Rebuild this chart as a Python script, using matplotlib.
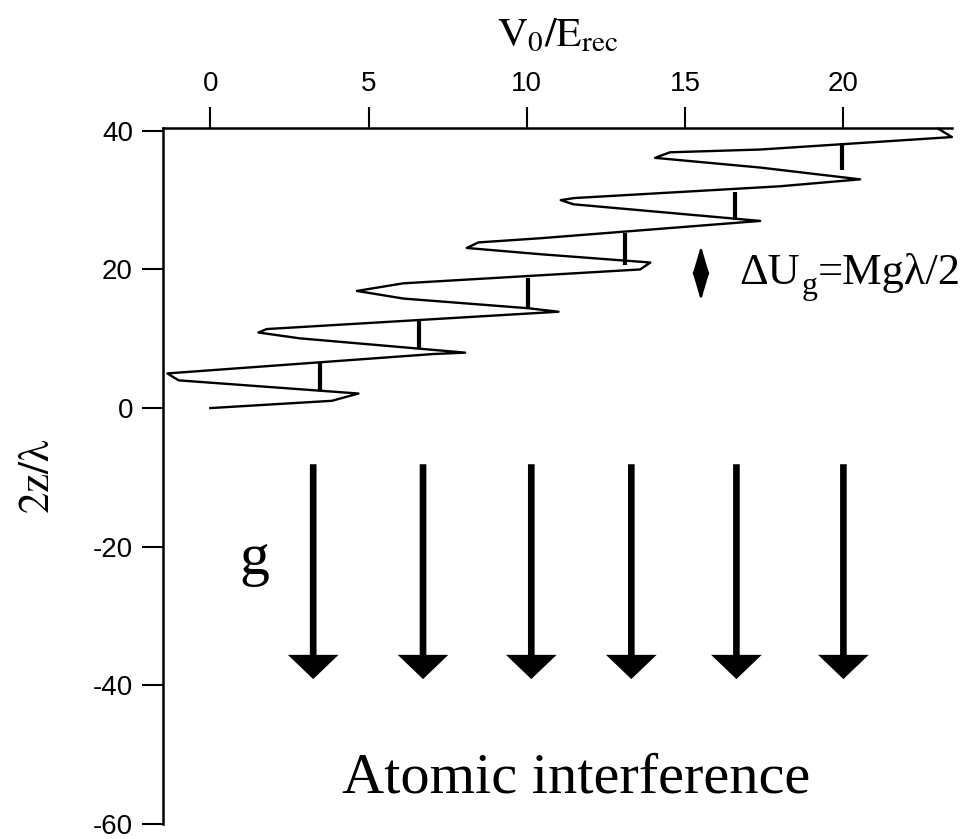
import matplotlib
matplotlib.use("Agg")
import matplotlib.pyplot as plt

plt.rcParams["font.family"] = ["Liberation Sans", "DejaVu Sans"]
plt.rcParams["mathtext.fontset"] = "stix"
plt.rcParams["axes.unicode_minus"] = False

# zigzag potential curve (V0/Erec, 2z/lambda)
curve_x = [0.0, 3.84, 4.68, -1.0, -1.36, 7.05, 8.05, 2.83, 1.52, 1.78,
           11.0, 10.05, 6.1, 4.63, 6.1, 13.58, 13.9, 10.42, 8.1, 8.47,
           10.42, 17.37, 11.47, 11.07, 11.5, 18.0, 20.53, 17.37, 14.52, 14.05,
           14.52, 17.37, 23.43, 23.0]
curve_y = [0.0, 1.05, 2.1, 4.0, 5.0, 7.8, 8.0, 10.06, 10.9, 11.4,
           13.9, 14.4, 15.8, 16.9, 18.0, 20.0, 21.0, 22.2, 23.1, 23.9,
           24.5, 27.0, 29.4, 30.0, 30.3, 32.0, 33.0, 34.7, 35.9, 36.1,
           36.9, 37.3, 39.1, 40.3]

# short vertical bars between the sweeps
bar_x = [3.47, 6.6, 10.04, 13.1, 16.58, 19.95]
bar_bottom = [2.4, 8.55, 14.45, 20.6, 27.2, 34.4]
bar_top = [6.5, 12.5, 18.8, 25.3, 31.2, 38.3]

# gravity arrows
arrow_x = [3.25, 6.72, 10.14, 13.3, 16.62, 20.0]
arrow_top = -8.1
arrow_tip = -39.1

xticks = [0, 5, 10, 15, 20]
yticks = [-60, -40, -20, 0, 20, 40]

fig = plt.figure(figsize=(9.65, 8.39), dpi=100)
ax = fig.add_axes([0.1694, 0.0179, 0.8171, 0.8299])

ax.plot(curve_x, curve_y, color="k", lw=1.7, clip_on=False)
ax.vlines(bar_x, bar_bottom, bar_top, color="k", lw=3.0)

for x in arrow_x:
    ax.arrow(x, arrow_top, 0, arrow_tip - arrow_top, width=0.21,
             head_width=1.6, head_length=3.5, length_includes_head=True,
             color="k", lw=0)

# double arrow showing the gravity step
ax.annotate("", xy=(15.5, 23.4), xytext=(15.5, 15.5),
            arrowprops=dict(arrowstyle="<|-|>,head_length=1.7,head_width=0.5",
                            mutation_scale=10, lw=1.8, color="k",
                            shrinkA=0, shrinkB=0))

serif = ["Liberation Serif", "DejaVu Serif"]
# "ΔU_g=Mgλ/2" built from pieces so the subscript sits low like the original
t1 = ax.text(16.72, 17.9, "ΔU", family=serif, fontsize=32, ha="left", va="baseline")
t2 = ax.annotate("g", xy=(1, 0), xycoords=t1, xytext=(1, -0.5),
                 textcoords="offset points", family=serif, fontsize=23,
                 ha="left", va="baseline")
ax.annotate("=Mgλ/2", xy=(1, 0), xycoords=(t2, t1), xytext=(0, 0),
            textcoords="offset points", family=serif, fontsize=32,
            ha="left", va="bottom")

ax.text(1.38, -23.9, "g", family=serif, fontsize=43, ha="center", va="baseline")
ax.text(11.56, -55.5, "Atomic interference", family=serif, fontsize=42,
        ha="center", va="baseline")

ax.set_xlim(-1.48, 23.43)
ax.set_ylim(-60, 40.45)
ax.xaxis.tick_top()
ax.xaxis.set_label_position("top")
ax.set_xticks(xticks)
ax.set_yticks(yticks)
ax.tick_params(direction="out", length=15, width=1.5, pad=7, labelsize=20)

ax.set_xlabel(r"$\mathrm{V_0/E_{rec}}$", fontsize=30)
ax.xaxis.set_label_coords(0.5, 1.117)
ax.set_ylabel(r"$\mathrm{2z/\lambda}$", fontsize=31)
ax.yaxis.set_label_coords(-0.134, 0.5)

for side in ["bottom", "right"]:
    ax.spines[side].set_visible(False)
for side in ["top", "left"]:
    ax.spines[side].set_linewidth(1.8)

fig.savefig("out.png", dpi=100)
